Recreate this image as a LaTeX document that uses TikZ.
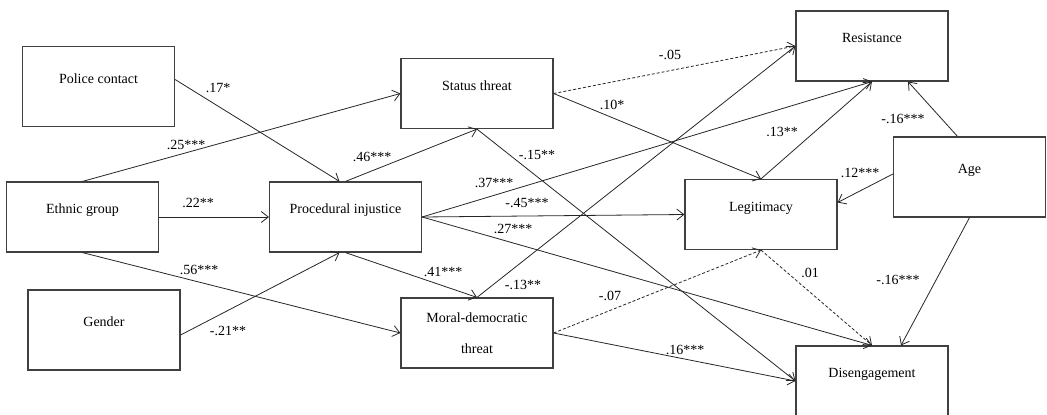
\documentclass[tikz,border=0pt]{standalone}
\usepackage{fontspec}
\setmainfont{Liberation Serif}
\usetikzlibrary{arrows.meta}
\tikzstyle{box}=[
	draw=black!75,
	line width=1.2pt,
	minimum width=152pt,
	minimum height=70pt,
	inner sep=0pt,
	text height=10pt,
	text depth=17pt,
	font=\fontsize{14}{17}\selectfont
]
\tikzstyle{tall}=[
	minimum height=80pt
]
\tikzstyle{link}=[
	-{Straight Barb[length=7pt,width=11pt]},
	draw=black!85,
	line width=0.8pt
]
\tikzstyle{dlink}=[
	link,
	dash pattern=on 3pt off 2pt
]
\tikzstyle{wt}=[
	inner sep=0pt,
	font=\fontsize{14}{17}\selectfont
]
\begin{document}
\begin{tikzpicture}[x=1pt, y=-1pt]
\useasboundingbox (0,0) rectangle (1047,415);

\node[box,tall] (police) at (98.5,86.5) {Police contact};
\node[box] (ethnic) at (82.5,217) {Ethnic group};
\node[box,tall] (gender) at (104,330) {Gender};
\node[box] (proc) at (345.5,217) {Procedural injustice};
\node[box] (status) at (477,93.5) {Status threat};
\node[box, align=center, text height=, text depth=] (moral) at (477,333) {Moral-democratic\\[14pt]threat};
\node[box] (resist) at (872,46) {Resistance};
\node[box] (legit) at (761,214.5) {Legitimacy};
\node[box,tall] (age) at (969.5,177) {Age};
\node[box] (diseng) at (872,381) {Disengagement};

% shifted ends
\coordinate (pc) at ([yshift=7pt]police.east);
\coordinate (pin) at ([xshift=-6pt]proc.north);
\coordinate (gc) at ([yshift=-5pt]gender.east);
\coordinate (pis) at ([xshift=-6pt]proc.south);
\coordinate (agn) at ([xshift=-12pt]age.north);
\coordinate (rsa) at ([xshift=36pt]resist.south);
\coordinate (aw) at ([yshift=3pt]age.west);
\coordinate (lea) at ([yshift=12pt]legit.east);
\coordinate (dna) at ([xshift=29pt]diseng.north);

\foreach \a/\b in {pc/pin, gc/pis, ethnic.north/status.west, ethnic.east/proc.west,
    ethnic.south/moral.west, proc.north/status.south, proc.south/moral.north,
    proc.east/resist.south, proc.east/legit.west, proc.east/diseng.north,
    status.east/legit.north, status.south/diseng.west, moral.north/resist.west,
    moral.east/diseng.west, legit.north/resist.south, agn/rsa, aw/lea, age.south/dna}{
    \draw[link] (\a) -- (\b);
}

\draw[dlink] (status.east) -- (resist.west);
\draw[dlink] (moral.east) -- (legit.south);
\draw[dlink] (legit.south) -- (diseng.north);

% weights
\foreach \n/\x/\y/\t in {w1/218/88/.17*, w2/186/145/.25***, w3/198/203/.22**,
    w4/199/270/.56***, w5/228/331/-.21**, w6/372/157/.46***, w7/443/272/.41***,
    w8/494/183/.37***, w9/527/203/-.45***, w10/513/229/.27***, w11/670/55/-.05,
    w12/612/105/.10*, w13/537/155/-.15**, w14/523/285/-.13**, w15/610/296/-.07,
    w16/685/350/.16***, w17/782/132/.13**, w18/810/273/.01, w19/903/119/-.16***,
    w20/860/173/.12***, w21/898/280/-.16***}{
    \node[wt] (\n) at (\x,\y) {\t};
}
\end{tikzpicture}
\end{document}
